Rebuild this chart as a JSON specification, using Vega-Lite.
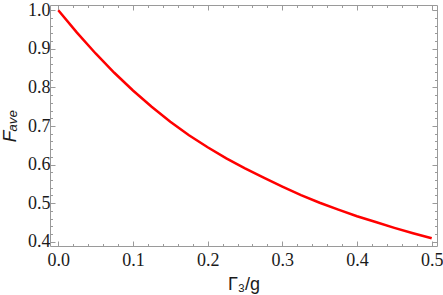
{
  "$schema": "https://vega.github.io/schema/vega-lite/v6.json",
  "width": 387,
  "height": 241,
  "autosize": {"type": "none"},
  "padding": {"left": 50, "top": 5, "right": 6, "bottom": 49},
  "background": "white",
  "config": {
    "view": {"stroke": null},
    "axis": {
      "grid": false,
      "domainColor": "#9a9a9a",
      "tickColor": "#9a9a9a",
      "domainWidth": 1,
      "tickWidth": 1,
      "labelFont": "Liberation Serif",
      "labelFontSize": 18,
      "labelColor": "#1a1a1a",
      "labelOverlap": false,
      "labelFlush": false,
      "titleFont": "Liberation Sans",
      "titleFontWeight": "normal",
      "titleFontSize": 18,
      "titleColor": "#1a1a1a"
    }
  },
  "data": {
    "values": [
      {"x": 0.000, "F": 1.000},
      {"x": 0.025, "F": 0.942},
      {"x": 0.050, "F": 0.888},
      {"x": 0.075, "F": 0.838},
      {"x": 0.100, "F": 0.792},
      {"x": 0.125, "F": 0.750},
      {"x": 0.150, "F": 0.711},
      {"x": 0.175, "F": 0.676},
      {"x": 0.200, "F": 0.645},
      {"x": 0.225, "F": 0.616},
      {"x": 0.250, "F": 0.590},
      {"x": 0.275, "F": 0.566},
      {"x": 0.300, "F": 0.543},
      {"x": 0.325, "F": 0.521},
      {"x": 0.350, "F": 0.501},
      {"x": 0.375, "F": 0.483},
      {"x": 0.400, "F": 0.466},
      {"x": 0.425, "F": 0.451},
      {"x": 0.450, "F": 0.436},
      {"x": 0.475, "F": 0.422},
      {"x": 0.500, "F": 0.409}
    ]
  },
  "layer": [
    {
      "mark": {"type": "line", "color": "#ff0000", "strokeWidth": 2.5, "clip": true},
      "encoding": {
        "x": {
          "field": "x",
          "type": "quantitative",
          "scale": {"domain": [-0.0111, 0.5071], "nice": false, "zero": false},
          "axis": {
            "orient": "bottom",
            "values": [0, 0.02, 0.04, 0.06, 0.08, 0.1, 0.12, 0.14, 0.16, 0.18, 0.2, 0.22, 0.24, 0.26, 0.28, 0.3, 0.32, 0.34, 0.36, 0.38, 0.4, 0.42, 0.44, 0.46, 0.48, 0.5],
            "tickSize": {"condition": {"test": "abs(datum.value*10 - round(datum.value*10)) < 0.001", "value": -5}, "value": -2.5},
            "labelExpr": "abs(datum.value*10 - round(datum.value*10)) < 0.001 ? format(datum.value, '.1f') : ''",
            "labelPadding": 10,
            "title": "Γ₃/g",
            "titlePadding": 4
          }
        },
        "y": {
          "field": "F",
          "type": "quantitative",
          "scale": {"domain": [0.3889, 1.0137], "nice": false, "zero": false},
          "axis": {
            "orient": "left",
            "values": [0.4, 0.42, 0.44, 0.46, 0.48, 0.5, 0.52, 0.54, 0.56, 0.58, 0.6, 0.62, 0.64, 0.66, 0.68, 0.7, 0.72, 0.74, 0.76, 0.78, 0.8, 0.82, 0.84, 0.86, 0.88, 0.9, 0.92, 0.94, 0.96, 0.98, 1.0],
            "tickSize": {"condition": {"test": "abs(datum.value*10 - round(datum.value*10)) < 0.001", "value": -5}, "value": -2.5},
            "labelExpr": "abs(datum.value*10 - round(datum.value*10)) < 0.001 ? format(datum.value, '.1f') : ''",
            "labelPadding": 5,
            "title": "Fₐᵥₑ",
            "titleFontStyle": "italic",
            "titleFontSize": 19,
            "titlePadding": 8
          }
        }
      }
    },
    {
      "mark": {"type": "line", "opacity": 0},
      "encoding": {
        "x": {
          "field": "x",
          "type": "quantitative",
          "scale": {"domain": [-0.0111, 0.5071], "nice": false, "zero": false},
          "axis": {
            "orient": "top",
            "values": [0, 0.02, 0.04, 0.06, 0.08, 0.1, 0.12, 0.14, 0.16, 0.18, 0.2, 0.22, 0.24, 0.26, 0.28, 0.3, 0.32, 0.34, 0.36, 0.38, 0.4, 0.42, 0.44, 0.46, 0.48, 0.5],
            "tickSize": {"condition": {"test": "abs(datum.value*10 - round(datum.value*10)) < 0.001", "value": -5}, "value": -2.5},
            "labels": false,
            "title": null
          }
        },
        "y": {
          "field": "F",
          "type": "quantitative",
          "scale": {"domain": [0.3889, 1.0137], "nice": false, "zero": false},
          "axis": {
            "orient": "right",
            "values": [0.4, 0.42, 0.44, 0.46, 0.48, 0.5, 0.52, 0.54, 0.56, 0.58, 0.6, 0.62, 0.64, 0.66, 0.68, 0.7, 0.72, 0.74, 0.76, 0.78, 0.8, 0.82, 0.84, 0.86, 0.88, 0.9, 0.92, 0.94, 0.96, 0.98, 1.0],
            "tickSize": {"condition": {"test": "abs(datum.value*10 - round(datum.value*10)) < 0.001", "value": -5}, "value": -2.5},
            "labels": false,
            "title": null
          }
        }
      }
    }
  ],
  "resolve": {"axis": {"x": "independent", "y": "independent"}}
}
